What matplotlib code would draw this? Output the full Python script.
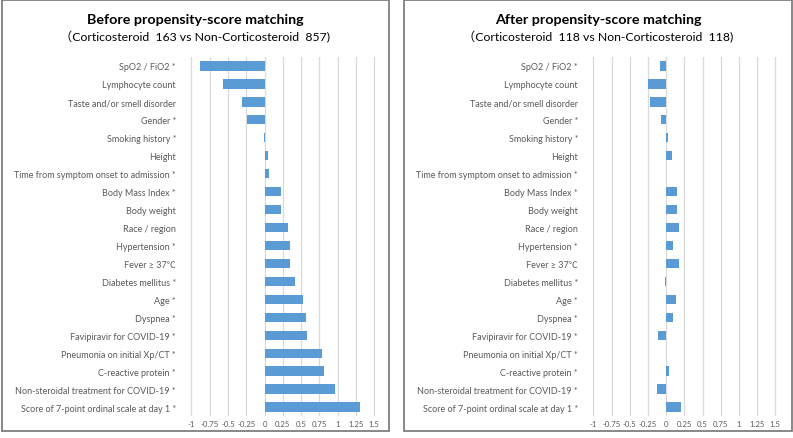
import matplotlib
matplotlib.use("Agg")
import matplotlib.pyplot as plt
from matplotlib.patches import Rectangle

categories = [
    "SpO2 / FiO2 *", "Lymphocyte count", "Taste and/or smell disorder", "Gender *",
    "Smoking history *", "Height", "Time from symptom onset to admission *",
    "Body Mass Index *", "Body weight", "Race / region", "Hypertension *",
    "Fever ≥ 37℃", "Diabetes mellitus *", "Age *", "Dyspnea *",
    "Favipiravir for COVID-19 *", "Pneumonia on initial Xp/CT *",
    "C-reactive protein *", "Non-steroidal treatment for COVID-19 *",
    "Score of 7-point ordinal scale at day 1 *",
]
before_vals = [-0.89, -0.57, -0.31, -0.24, -0.01, 0.05, 0.06, 0.22, 0.225, 0.32,
               0.35, 0.35, 0.41, 0.53, 0.57, 0.58, 0.79, 0.81, 0.96, 1.31]
after_vals = [-0.09, -0.25, -0.22, -0.07, 0.03, 0.08, 0.0, 0.15, 0.155, 0.17,
              0.10, 0.18, -0.02, 0.13, 0.09, -0.11, 0.0, 0.04, -0.13, 0.20]
x_ticks = [-1, -0.75, -0.5, -0.25, 0, 0.25, 0.5, 0.75, 1, 1.25, 1.5]
x_tick_labels = ["-1", "-0.75", "-0.5", "-0.25", "0", "0.25", "0.5", "0.75", "1", "1.25", "1.5"]

titles = ["Before propensity-score matching", "After propensity-score matching"]
subtitles = ["（Corticosteroid  163 vs Non-Corticosteroid  857)",
             "（Corticosteroid  118 vs Non-Corticosteroid  118)"]

W, H = 793, 439
fig = plt.figure(figsize=(W / 100, H / 100), dpi=100)
fam = ["Lato", "Noto Sans CJK JP", "DejaVu Sans"]
plt.rcParams["font.family"] = fam

bar_color = "#5B9BD5"
grid_color = "#D9D9D9"
text_color = "#595959"

panels = [
    dict(vals=before_vals, ax_x0=190, ax_x1=375.7, box=(2, 1, 389, 432), cx=195),
    dict(vals=after_vals, ax_x0=592, ax_x1=776.7, box=(404, 1, 792, 432), cx=598),
]
ax_top, ax_bot = 58, 417

for i, p in enumerate(panels):
    bx0, by0, bx1, by1 = p["box"]
    fig.patches.append(Rectangle((bx0 / W, 1 - by1 / H), (bx1 - bx0) / W, (by1 - by0) / H,
                                 transform=fig.transFigure, fill=False,
                                 edgecolor="#7F7F7F", linewidth=1.3))
    ax = fig.add_axes([p["ax_x0"] / W, 1 - ax_bot / H, (p["ax_x1"] - p["ax_x0"]) / W,
                       (ax_bot - ax_top) / H])
    y = list(range(len(categories)))
    ax.barh(y, p["vals"], height=0.52, color=bar_color, zorder=3)
    ax.set_ylim(len(categories) - 0.5, -0.5)
    ax.set_xlim(-1.02, 1.52)
    ax.set_xticks(x_ticks)
    ax.set_xticklabels(x_tick_labels)
    ax.set_yticks(y)
    ax.set_yticklabels(categories)
    ax.grid(axis="x", color=grid_color, linewidth=0.9, zorder=0)
    ax.set_axisbelow(True)
    for s in ax.spines.values():
        s.set_visible(False)
    ax.tick_params(axis="both", length=0, colors=text_color)
    ax.tick_params(axis="y", labelsize=6.5, pad=10)
    ax.tick_params(axis="x", labelsize=5.6, pad=3)
    for lab in ax.get_yticklabels() + ax.get_xticklabels():
        lab.set_family(fam)
    fig.text(p["cx"] / W, 1 - 20 / H, titles[i], ha="center", va="center",
             fontsize=10.3, fontweight="bold", color="black", family=fam)
    fig.text(p["cx"] / W, 1 - 37 / H, subtitles[i], ha="center", va="center",
             fontsize=8.8, color="black", family=fam)

fig.savefig("out.png", dpi=100)
